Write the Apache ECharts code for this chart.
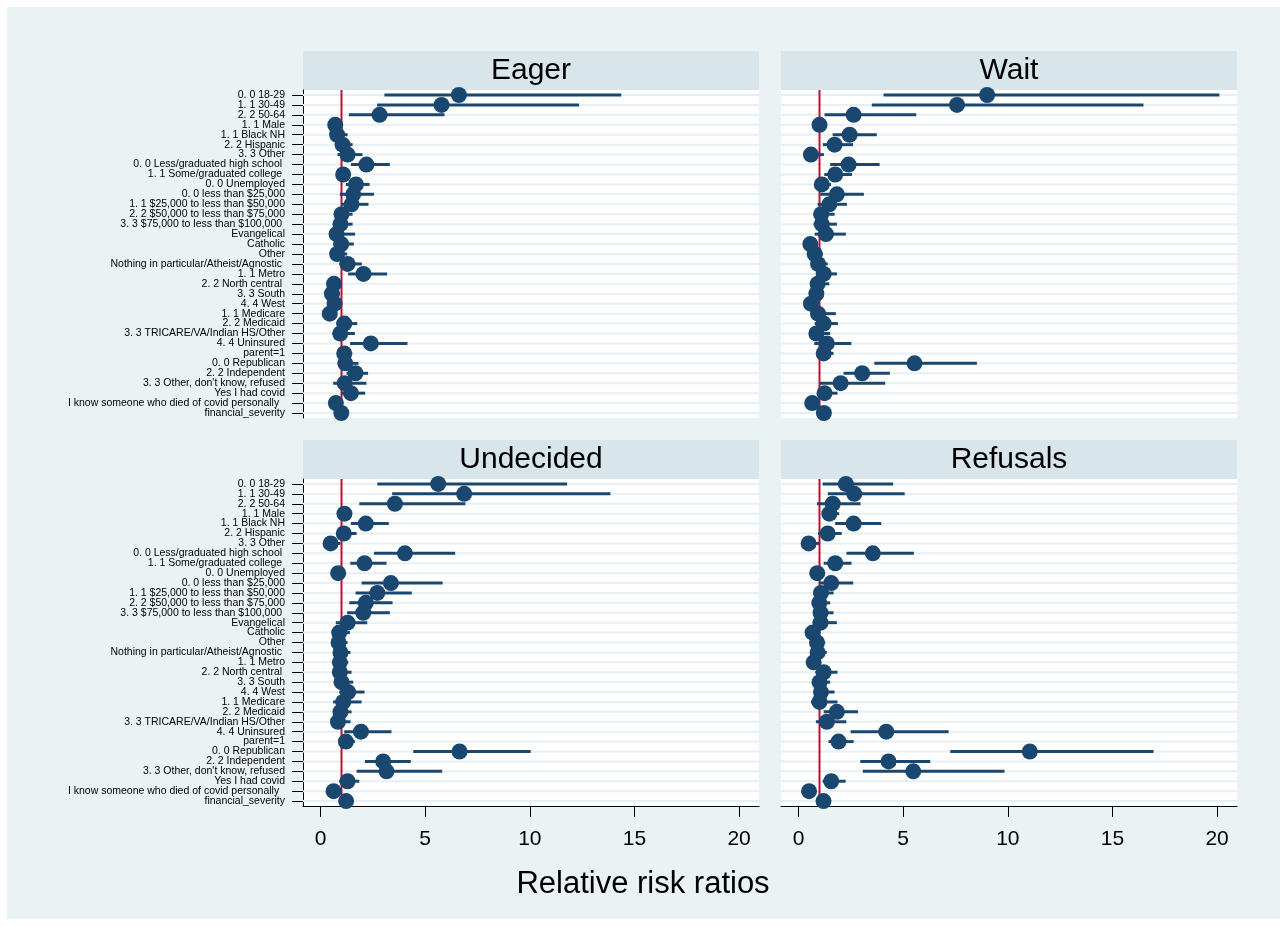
<!DOCTYPE html>
<html>
<head>
<meta charset="utf-8">
<script src="https://cdn.jsdelivr.net/npm/echarts@6/dist/echarts.min.js"></script>
<style>
html,body{margin:0;padding:0;background:#ffffff;}
#chart{width:1285px;height:926px;}
</style>
</head>
<body>
<div id="chart"></div>
<script>
const categories = [
  "0. 0 18-29", "1. 1 30-49", "2. 2 50-64", "1. 1 Male", "1. 1 Black NH", "2. 2 Hispanic", "3. 3 Other",
  "0. 0 Less/graduated high school ", "1. 1 Some/graduated college ", "0. 0 Unemployed",
  "0. 0 less than $25,000", "1. 1 $25,000 to less than $50,000", "2. 2 $50,000 to less than $75,000",
  "3. 3 $75,000 to less than $100,000 ", "Evangelical", "Catholic", "Other",
  "Nothing in particular/Atheist/Agnostic ", "1. 1 Metro", "2. 2 North central ", "3. 3 South", "4. 4 West",
  "1. 1 Medicare", "2. 2 Medicaid", "3. 3 TRICARE/VA/Indian HS/Other", "4. 4 Uninsured", "parent=1",
  "0. 0 Republican", "2. 2 Independent", "3. 3 Other, don't know, refused", "Yes I had covid",
  "I know someone who died of covid personally  ", "financial_severity"
];

const panelTitles = ["Eager", "Wait", "Undecided", "Refusals"];
const xTicks = [0, 5, 10, 15, 20];
const refValue = 1;
const xTitle = "Relative risk ratios";

const eagerEst = [6.61,5.78,2.82,0.70,0.79,1.05,1.29,2.19,1.08,1.69,1.56,1.48,1.00,0.95,0.76,0.99,0.79,1.29,2.05,0.64,0.54,0.67,0.44,1.13,0.94,2.40,1.13,1.18,1.67,1.15,1.45,0.73,0.99];
const eagerLo  = [3.05,2.70,1.35,0.55,0.55,0.80,0.81,1.45,0.85,1.21,0.92,1.00,0.68,0.60,0.44,0.60,0.52,0.89,1.32,0.41,0.29,0.36,0.15,0.76,0.57,1.41,0.80,0.84,1.24,0.60,1.00,0.48,0.76];
const eagerHi  = [14.37,12.35,5.92,0.88,1.29,1.53,2.00,3.31,1.40,2.34,2.55,2.29,1.53,1.53,1.65,1.59,1.27,1.97,3.18,0.95,0.92,1.00,0.76,1.75,1.64,4.15,1.51,1.81,2.27,2.19,2.13,1.05,1.21];

const waitEst = [9.01,7.57,2.63,1.00,2.44,1.72,0.59,2.39,1.75,1.11,1.83,1.47,1.08,1.11,1.31,0.56,0.77,0.93,1.20,0.91,0.85,0.59,0.93,1.20,0.85,1.35,1.20,5.54,3.04,2.01,1.24,0.65,1.21];
const waitLo  = [4.06,3.50,1.24,0.80,1.63,1.16,0.27,1.51,1.23,0.80,1.04,0.91,0.72,0.72,0.77,0.27,0.48,0.64,0.83,0.64,0.56,0.32,0.59,0.77,0.56,0.75,0.91,3.62,2.15,1.00,1.00,0.37,1.00];
const waitHi  = [20.11,16.48,5.62,1.25,3.74,2.60,1.21,3.87,2.55,1.55,3.12,2.31,1.72,1.83,2.26,0.91,1.16,1.39,1.83,1.47,1.20,1.00,1.78,1.88,1.51,2.52,1.67,8.52,4.36,4.14,1.86,1.00,1.45];

const undecidedEst = [5.62,6.86,3.55,1.14,2.16,1.11,0.48,4.03,2.10,0.84,3.36,2.71,2.16,2.04,1.29,0.89,0.86,0.95,0.92,0.92,1.00,1.32,1.08,0.95,0.83,1.93,1.21,6.64,2.99,3.15,1.29,0.62,1.22];
const undecidedLo  = [2.71,3.42,1.85,0.90,1.45,0.85,0.30,2.55,1.42,0.65,1.96,1.67,1.37,1.27,0.73,0.65,0.62,0.70,0.70,0.70,0.75,0.89,0.60,0.67,0.65,1.13,1.00,4.43,2.12,1.72,0.89,0.45,1.05];
const undecidedHi  = [11.78,13.85,6.92,1.40,3.26,1.72,0.95,6.43,3.15,1.05,5.83,4.36,3.44,3.31,2.23,1.40,1.29,1.43,1.32,1.48,1.56,2.10,1.96,1.48,1.43,3.39,1.64,10.04,4.31,5.81,1.85,0.95,1.45];

const refusalsEst = [2.26,2.66,1.63,1.47,2.63,1.39,0.48,3.55,1.75,0.89,1.56,1.07,0.99,1.05,1.05,0.67,0.88,0.91,0.72,1.20,1.00,1.07,1.00,1.83,1.35,4.19,1.91,11.05,4.30,5.48,1.56,0.50,1.19];
const refusalsLo  = [1.15,1.40,0.88,1.15,1.75,0.93,0.30,2.29,1.20,0.70,1.00,0.72,0.69,0.72,0.67,0.40,0.59,0.64,0.48,0.80,0.69,0.75,0.59,1.20,0.83,2.49,1.43,7.25,2.95,3.07,1.15,0.35,1.00];
const refusalsHi  = [4.52,5.07,2.96,1.94,3.95,2.06,1.00,5.51,2.53,1.20,2.61,1.67,1.51,1.67,1.83,1.00,1.27,1.35,1.00,1.86,1.51,1.72,1.86,2.84,2.28,7.17,2.63,16.96,6.29,9.84,2.25,0.75,1.45];

const panels = [
  { est: eagerEst, lo: eagerLo, hi: eagerHi },
  { est: waitEst, lo: waitLo, hi: waitHi },
  { est: undecidedEst, lo: undecidedLo, hi: undecidedHi },
  { est: refusalsEst, lo: refusalsLo, hi: refusalsHi }
];

// layout
const FONT = "Arial, 'Liberation Sans', Helvetica, sans-serif";
const NAVY = "#1A476F";
const RED = "#C0102E";
const BG = "#EAF2F3";
const STRIP = "#D8E5EB";
const GRIDLINE = "#E6EFF1";
const gridBoxes = [
  { left: 303, top: 90, width: 456, height: 328 },
  { left: 781, top: 90, width: 456, height: 328 },
  { left: 303, top: 479, width: 456, height: 327 },
  { left: 781, top: 479, width: 456, height: 327 }
];
const stripTops = [51, 51, 440, 440];
const X_MIN = -0.84, X_MAX = 20.95;

const chart = echarts.init(document.getElementById('chart'), null, { renderer: 'canvas' });

const grid = [], xAxis = [], yAxis = [], series = [];
const graphic = [
  { type: 'rect', shape: { x: 7, y: 7, width: 1273, height: 912 }, style: { fill: BG }, z: -10, silent: true }
];

panels.forEach((p, i) => {
  const g = gridBoxes[i];
  const isLeft = (i % 2 === 0);
  const isBottom = (i >= 2);
  grid.push({ left: g.left, top: g.top, width: g.width, height: g.height, containLabel: false, show: true, backgroundColor: '#ffffff', borderWidth: 0 });
  graphic.push({ type: 'rect', shape: { x: g.left, y: stripTops[i], width: g.width, height: 39 }, style: { fill: STRIP }, z: -5, silent: true });
  graphic.push({ type: 'text', x: g.left + g.width / 2, y: stripTops[i] + 20, style: { text: panelTitles[i], font: "30px " + FONT, fill: '#000', textAlign: 'center', textVerticalAlign: 'middle' }, z: 5, silent: true });

  xAxis.push({
    type: 'value', gridIndex: i, min: X_MIN, max: X_MAX,
    show: isBottom,
    splitLine: { show: false },
    axisLine: { show: isBottom, onZero: false, lineStyle: { color: '#000', width: 1 } },
    axisTick: { show: isBottom, customValues: xTicks, length: 11, inside: false, lineStyle: { color: '#000', width: 1 } },
    axisLabel: { show: isBottom, customValues: xTicks, fontSize: 21, color: '#000', fontFamily: FONT, margin: 23 }
  });
  yAxis.push({
    type: 'category', gridIndex: i, data: categories, inverse: true,
    show: isLeft,
    axisLine: { show: isLeft, onZero: false, lineStyle: { color: '#000', width: 1 } },
    axisTick: { show: isLeft, alignWithLabel: true, length: 11, interval: 0, lineStyle: { color: '#000', width: 1 } },
    axisLabel: { show: isLeft, interval: 0, fontSize: 10.5, color: '#000', fontFamily: FONT, margin: 18 },
    splitLine: { show: false }
  });

  // horizontal row lines at each category
  series.push({
    type: 'custom', xAxisIndex: i, yAxisIndex: i, z: 1, silent: true,
    data: categories.map((c, k) => [k]),
    encode: { y: 0 },
    renderItem: function (params, api) {
      const cs = params.coordSys;
      const y = api.coord([0, api.value(0)])[1];
      return { type: 'line', shape: { x1: cs.x, y1: y, x2: cs.x + cs.width, y2: y }, style: { stroke: GRIDLINE, lineWidth: 2 } };
    }
  });
  // reference line at 1
  series.push({
    type: 'custom', xAxisIndex: i, yAxisIndex: i, z: 2, silent: true,
    data: [[refValue]],
    encode: { x: 0 },
    renderItem: function (params, api) {
      const cs = params.coordSys;
      const x = api.coord([api.value(0), 0])[0];
      return { type: 'line', shape: { x1: x, y1: cs.y, x2: x, y2: cs.y + cs.height }, style: { stroke: RED, lineWidth: 2 } };
    }
  });
  // confidence intervals
  series.push({
    type: 'custom', xAxisIndex: i, yAxisIndex: i, z: 3, silent: true,
    data: categories.map((c, k) => [k, p.lo[k], p.hi[k]]),
    encode: { y: 0, x: [1, 2] },
    renderItem: function (params, api) {
      const a = api.coord([api.value(1), api.value(0)]);
      const b = api.coord([api.value(2), api.value(0)]);
      return { type: 'line', shape: { x1: a[0], y1: a[1], x2: b[0], y2: b[1] }, style: { stroke: NAVY, lineWidth: 3 } };
    }
  });
  // point estimates
  series.push({
    type: 'scatter', xAxisIndex: i, yAxisIndex: i, z: 4, silent: true,
    symbol: 'circle', symbolSize: 16,
    itemStyle: { color: NAVY, opacity: 1 },
    data: categories.map((c, k) => [p.est[k], k])
  });
});

graphic.push({ type: 'text', x: 643, y: 884, style: { text: xTitle, font: "31px " + FONT, fill: '#000', textAlign: 'center', textVerticalAlign: 'middle' }, z: 5, silent: true });

chart.setOption({
  animation: false,
  backgroundColor: '#ffffff',
  grid: grid,
  xAxis: xAxis,
  yAxis: yAxis,
  series: series,
  graphic: graphic
});
</script>
</body>
</html>
